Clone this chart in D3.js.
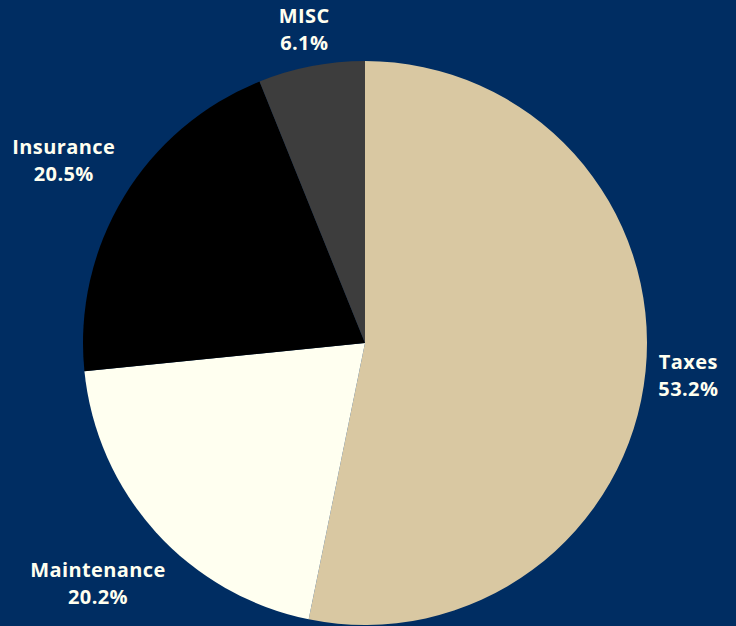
<!DOCTYPE html>
<html><head><meta charset="utf-8">
<script src="https://cdn.jsdelivr.net/npm/d3@7"></script>
<style>html,body{margin:0;padding:0;background:#002D62;}svg{display:block;}</style>
</head><body>
<svg id="chart" width="736" height="626"></svg>
<script>
const categories = ["Taxes", "Maintenance", "Insurance", "MISC"];
const values = [53.2, 20.2, 20.5, 6.1];
const colors = ["#D9C8A2", "#FFFFF0", "#000000", "#3D3D3D"];
const labelDistances = [325, 360, 352, 319];

const W = 736, H = 626, cx = 365, cy = 343, R = 282;
const svg = d3.select("#chart");
svg.append("rect").attr("width", W).attr("height", H).attr("fill", "#002D62");

const data = categories.map((c, i) => ({ name: c, value: values[i], color: colors[i], ld: labelDistances[i] }));
const pie = d3.pie().sort(null).value(d => d.value);
const arc = d3.arc().innerRadius(0).outerRadius(R);
const arcs = pie(data);

const g = svg.append("g").attr("transform", `translate(${cx},${cy})`);
g.selectAll("path").data(arcs).join("path")
  .attr("d", arc).attr("fill", d => d.data.color);

const lab = g.selectAll("text.lab").data(arcs).join("text")
  .attr("class", "lab")
  .attr("text-anchor", "middle")
  .attr("font-family", "'Open Sans', Lato, sans-serif")
  .attr("font-weight", 700)
  .attr("font-size", 20)
  .attr("letter-spacing", 0.4)
  .attr("fill", "#FFFFF0")
  .attr("transform", d => {
    const a = (d.startAngle + d.endAngle) / 2;
    return `translate(${Math.sin(a) * d.data.ld},${-Math.cos(a) * d.data.ld})`;
  });
lab.append("tspan").attr("x", 0).attr("dy", -7).text(d => d.data.name);
lab.append("tspan").attr("x", 0).attr("dy", 27).text(d => d.data.value.toFixed(1) + "%");
</script>
</body></html>
